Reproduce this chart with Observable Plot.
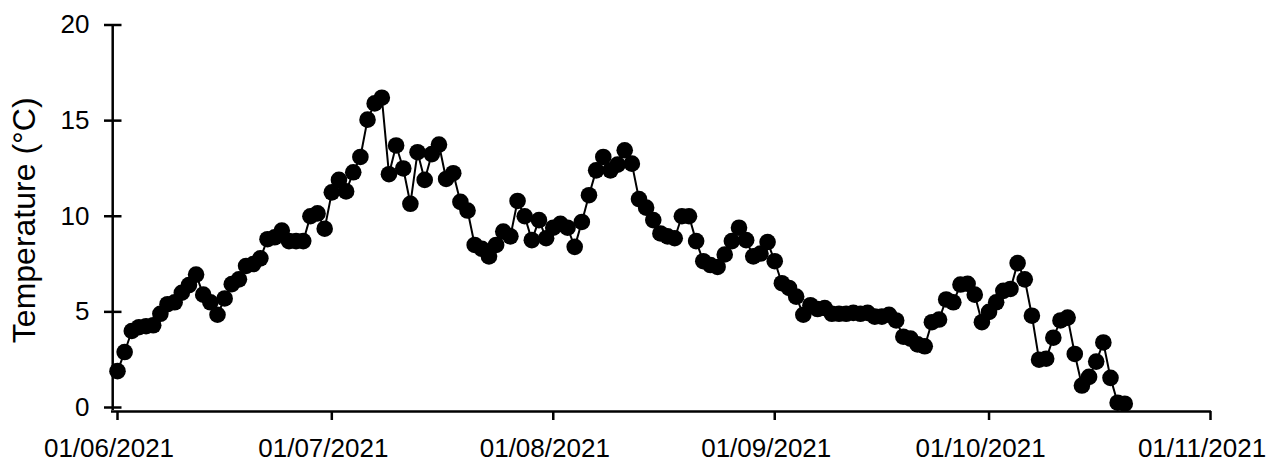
<!DOCTYPE html>
<html>
<head>
<meta charset="utf-8">
<script src="https://cdn.jsdelivr.net/npm/d3@7"></script>
<script src="https://cdn.jsdelivr.net/npm/@observablehq/plot@0.6"></script>
<style>
  html, body { margin: 0; padding: 0; background: #fff; }
</style>
</head>
<body>
<div id="chart"></div>
<script>
// Daily mean temperature (°C), one array per month, starting on the 1st
const juneValues = [1.9, 2.9, 4.0, 4.2, 4.25, 4.3, 4.9, 5.4, 5.5, 6.0, 6.4, 6.95, 5.9, 5.5, 4.85, 5.7, 6.45, 6.7, 7.4, 7.5, 7.8, 8.8, 8.9, 9.25, 8.7, 8.7, 8.7, 10.0, 10.15, 9.35];
const julyValues = [11.25, 11.9, 11.3, 12.3, 13.1, 15.05, 15.9, 16.2, 12.2, 13.7, 12.5, 10.65, 13.35, 11.9, 13.25, 13.75, 11.95, 12.25, 10.75, 10.3, 8.5, 8.3, 7.9, 8.5, 9.2, 8.95, 10.8, 10.0, 8.75, 9.8, 8.85];
const augustValues = [9.4, 9.6, 9.4, 8.4, 9.7, 11.1, 12.4, 13.1, 12.4, 12.7, 13.45, 12.75, 10.9, 10.45, 9.8, 9.1, 8.95, 8.85, 10.0, 10.0, 8.7, 7.65, 7.45, 7.35, 8.0, 8.7, 9.4, 8.75, 7.9, 8.05, 8.65];
const septemberValues = [7.65, 6.5, 6.25, 5.8, 4.85, 5.35, 5.15, 5.2, 4.9, 4.9, 4.9, 4.95, 4.9, 4.95, 4.75, 4.75, 4.85, 4.55, 3.7, 3.6, 3.3, 3.2, 4.46, 4.6, 5.65, 5.5, 6.43, 6.47, 5.9, 4.46];
const octoberValues = [5.0, 5.5, 6.1, 6.2, 7.55, 6.7, 4.8, 2.5, 2.55, 3.65, 4.55, 4.7, 2.8, 1.15, 1.6, 2.4, 3.4, 1.55, 0.25, 0.2];

const monthStarts = ["2021-06-01", "2021-07-01", "2021-08-01", "2021-09-01", "2021-10-01", "2021-11-01"];
const xTickLabels = ["01/06/2021", "01/07/2021", "01/08/2021", "01/09/2021", "01/10/2021", "01/11/2021"];
const yTicks = [0, 5, 10, 15, 20];
const yLabel = "Temperature (°C)";

// Build the table
const monthly = [juneValues, julyValues, augustValues, septemberValues, octoberValues];
const data = [];
monthly.forEach((vals, m) => {
  const start = new Date(monthStarts[m] + "T00:00:00Z");
  vals.forEach((v, i) => data.push({date: d3.utcDay.offset(start, i), temp: v}));
});
const xTicks = monthStarts.map(s => new Date(s + "T00:00:00Z"));
const tickLabelOf = new Map(xTicks.map((d, i) => [+d, xTickLabels[i]]));
const xStart = xTicks[0], xEnd = xTicks[xTicks.length - 1];
const yMin = -0.209, yMax = 20;

const chart = Plot.plot({
  width: 1277,
  height: 466,
  marginLeft: 117,
  marginRight: 67,
  marginTop: 24.5,
  marginBottom: 55,
  style: {fontFamily: "'Liberation Sans', Arial, sans-serif", color: "#000", background: "#fff"},
  x: {type: "utc", domain: [xStart, xEnd]},
  y: {domain: [yMin, yMax]},
  marks: [
    // y-axis line (offset left of the first date, as in the original)
    Plot.ruleX([xStart], {y1: yMin, y2: yMax, dx: -4.8, stroke: "#000", strokeWidth: 2.5, insetTop: -1}),
    // y tick marks crossing the axis
    Plot.ruleY(yTicks, {x1: xStart, x2: xStart, insetLeft: -13, insetRight: -4.5, stroke: "#000", strokeWidth: 2.5}),
    // x-axis line
    Plot.ruleY([yMin], {x1: xStart, x2: xEnd, insetLeft: -6, insetRight: -1, stroke: "#000", strokeWidth: 2.5}),
    // x tick marks
    Plot.axisX({ticks: xTicks, tickSize: 9, strokeWidth: 2.5, tickFormat: () => "", label: null}),
    // x tick labels (slightly left of their ticks, as in the original)
    Plot.axisX({
      ticks: xTicks, tickSize: 0, tickPadding: 27, dx: -8.5,
      tickFormat: d => tickLabelOf.get(+d), fontSize: 26, label: null
    }),
    Plot.axisY({ticks: yTicks, tickSize: 0, tickPadding: 28, fontSize: 26, label: null}),
    Plot.text([yLabel], {
      frameAnchor: "left", rotate: -90, dx: -83, dy: 2,
      textAnchor: "middle", lineAnchor: "bottom", fontSize: 32, fill: "#000"
    }),
    Plot.line(data, {x: "date", y: "temp", stroke: "#000", strokeWidth: 2}),
    Plot.dot(data, {x: "date", y: "temp", r: 8.3, fill: "#000", stroke: "none"})
  ]
});
document.getElementById("chart").appendChild(chart);
</script>
</body>
</html>
